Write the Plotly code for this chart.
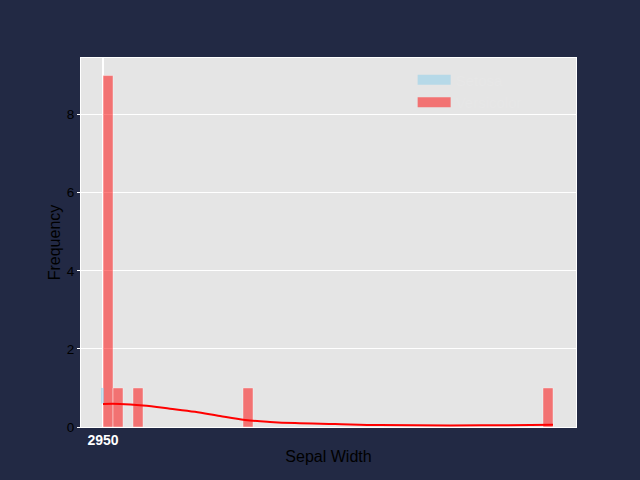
import plotly.graph_objects as go

# histogram counts, one bin per unit
bin_left = [0, 1, 3, 14, 44]
counts = [9, 1, 1, 1, 1]
bin_width = 1.0

# the light blue series (only one bin, partly hidden)
blue_left = [-0.2]
blue_base = [0.6]
blue_top = [1.0]

# density curve (scaled to counts)
kde_x = [0, 1.7, 4, 6.7, 9.2, 11.7, 14.2, 16.7, 19.2, 23.2, 27.7, 34.7, 39.7, 45]
kde_y = [0.59, 0.59, 0.55, 0.47, 0.39, 0.28, 0.18, 0.13, 0.10, 0.077, 0.05, 0.04, 0.045, 0.06]

tick_vals = [0]
tick_text = ["2950"]
legend_names = ["Setosa", "Versicolor"]

fig = go.Figure()

fig.add_trace(go.Bar(
    x=[b + bin_width / 2 for b in bin_left], y=counts, width=bin_width,
    marker=dict(color="rgba(255,0,0,0.5)", line=dict(color="rgba(255,255,255,0.4)", width=1)),
    showlegend=False))
fig.add_trace(go.Bar(
    x=[b + 0.15 for b in blue_left], y=[t - b for t, b in zip(blue_top, blue_base)],
    base=blue_base, width=0.3,
    marker=dict(color="rgba(135,206,235,0.5)", line=dict(width=0)),
    showlegend=False))
fig.add_trace(go.Scatter(
    x=kde_x, y=kde_y, mode="lines", line=dict(color="red", width=2, shape="spline"),
    showlegend=False))

# legend swatches
fig.add_trace(go.Scatter(x=[None], y=[None], mode="lines", name=legend_names[0],
                         line=dict(color="rgba(135,206,235,0.5)", width=11)))
fig.add_trace(go.Scatter(x=[None], y=[None], mode="lines", name=legend_names[1],
                         line=dict(color="rgba(255,0,0,0.5)", width=11)))

fig.update_layout(
    width=640, height=480,
    margin=dict(l=81, r=64, t=58, b=53),
    paper_bgcolor="#222944",
    plot_bgcolor="#e5e5e5",
    font=dict(family="Liberation Sans, Arial", color="black", size=13),
    barmode="overlay",
    showlegend=True,
    legend=dict(x=0.67, y=0.985, xanchor="left", yanchor="top",
                bgcolor="rgba(0,0,0,0)", itemwidth=33,
                font=dict(color="#e7e7e7", size=15)),
)
fig.update_xaxes(
    range=[-2.2, 47.3], title=dict(text="Sepal Width", font=dict(size=16), standoff=4),
    tickvals=tick_vals, ticktext=tick_text,
    tickfont=dict(color="white", size=14, weight="bold"),
    tickangle=0,
    showgrid=False, zeroline=True, zerolinecolor="white", zerolinewidth=2,
    showline=True, linecolor="white", linewidth=1, mirror=True, ticks="")
fig.update_yaxes(
    range=[0, 9.45], title=dict(text="Frequency", font=dict(size=16), standoff=2),
    dtick=2, gridcolor="white", zeroline=False, tickfont=dict(size=13.5),
    showline=True, linecolor="white", linewidth=1, mirror=True,
    ticks="outside", ticklen=3, tickcolor="white")

fig.write_html("out.html", config={"displayModeBar": False},
               post_script="document.body.style.margin='0';")
